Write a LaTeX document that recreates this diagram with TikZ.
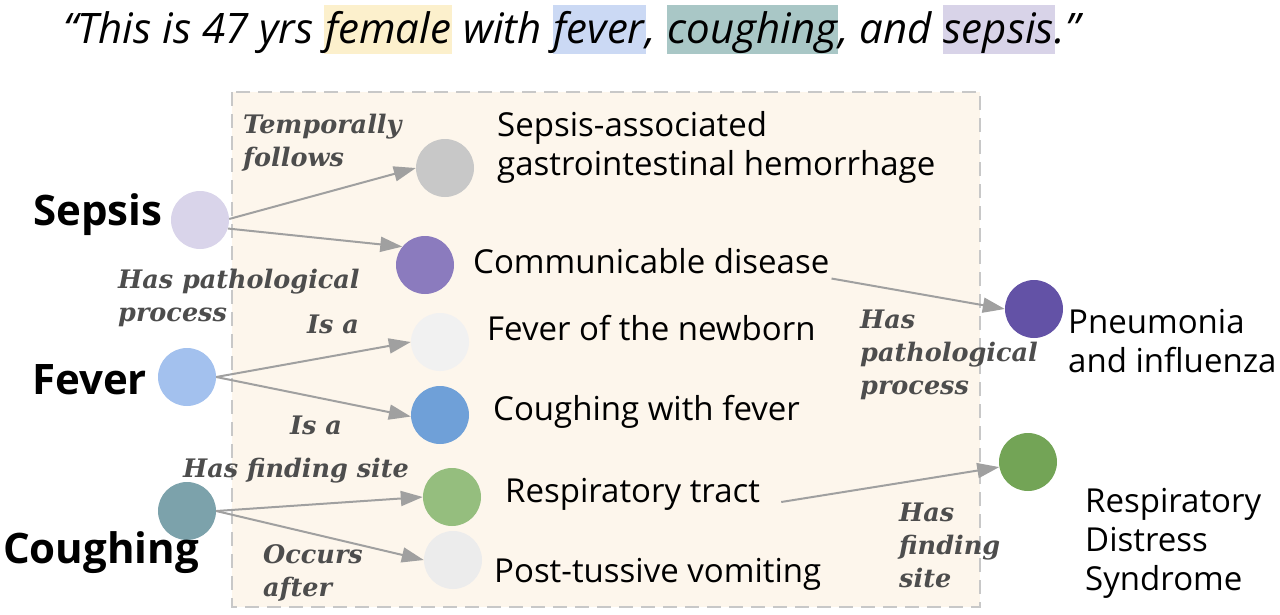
\documentclass[tikz,border=0pt]{standalone}
\usepackage{fontspec}
\setmainfont{Open Sans}
\newfontfamily\relfont{DejaVu Serif}
\usetikzlibrary{arrows.meta}

\definecolor{boxfill}{HTML}{FDF6EC}
\definecolor{boxline}{HTML}{C8C8C8}
\definecolor{linkgray}{HTML}{A0A0A0}
\definecolor{relgray}{HTML}{4D4D4D}
\definecolor{hlfemale}{HTML}{FCF0CC}
\definecolor{hlfever}{HTML}{CBD9F4}
\definecolor{hlcough}{HTML}{A9C7C6}
\definecolor{hlsepsis}{HTML}{D8D3E8}

\newcommand\hlword[2]{{\setlength\fboxsep{1pt}\colorbox{#1}{\rule[-9pt]{0pt}{46pt}#2}}}

\begin{document}
\begin{tikzpicture}[x=1pt,y=-1pt,
  concept/.style={circle,minimum size=58pt,inner sep=0pt},
  term/.style={anchor=base west,align=left,inner sep=0pt,font=\fontsize{33}{39}\selectfont},
  symptom/.style={anchor=base west,inner sep=0pt,font=\fontsize{42}{48}\selectfont\bfseries},
  rel/.style={anchor=base west,align=left,inner sep=0pt,text=relgray,
    font=\relfont\fontsize{25.5}{33}\selectfont\bfseries\itshape},
  link/.style={draw=linkgray,line width=2pt,-{Triangle[length=22pt,width=15pt]}}]
\useasboundingbox (0,0) rectangle (1280,614);

% sentence on top
\node [anchor=base west,inner sep=0pt,font=\fontsize{42}{48}\selectfont\itshape] (quote) at (63,43)
  {“This is 47 yrs \hlword{hlfemale}{female} with \hlword{hlfever}{fever}, \hlword{hlcough}{coughing}, and \hlword{hlsepsis}{sepsis}.”};

% knowledge box
\draw [boxline,fill=boxfill,line width=2pt,dash pattern=on 14pt off 8pt] (232,92) rectangle (980,607);

% concepts
\node [concept,fill={rgb,255:red,217;green,212;blue,234}] (sepsis) at (200,220) {};
\node [concept,fill={rgb,255:red,200;green,200;blue,200}] (sag) at (445,168) {};
\node [concept,fill={rgb,255:red,139;green,123;blue,190}] (cdis) at (425,265) {};
\node [concept,fill={rgb,255:red,241;green,241;blue,241}] (fnew) at (440,342) {};
\node [concept,fill={rgb,255:red,163;green,193;blue,238}] (fever) at (187,377) {};
\node [concept,fill={rgb,255:red,111;green,160;blue,216}] (cwf) at (440,415) {};
\node [concept,fill={rgb,255:red,124;green,162;blue,171}] (cough) at (187,511) {};
\node [concept,fill={rgb,255:red,149;green,190;blue,126}] (rtract) at (452,497) {};
\node [concept,fill={rgb,255:red,236;green,236;blue,236}] (ptv) at (453,560) {};
\node [concept,fill={rgb,255:red,99;green,82;blue,166}] (pneu) at (1034,309) {};
\node [concept,fill={rgb,255:red,115;green,164;blue,86}] (rds) at (1028,462) {};

% names
\node [symptom] (sepsisname) at (33,225) {Sepsis};
\node [symptom] (fevername) at (32,394) {Fever};
\node [symptom] (coughname) at (3,563) {Coughing};

\node [term] (sagtext) at (497,175) {Sepsis-associated\\gastrointestinal hemorrhage};
\node [term] (cdistext) at (473,273) {Communicable disease};
\node [term] (fnewtext) at (487,340) {Fever of the newborn};
\node [term] (cwftext) at (493,420) {Coughing with fever};
\node [term] (rtracttext) at (505,502) {Respiratory tract};
\node [term] (ptvtext) at (494,582) {Post-tussive vomiting};
\node [term] (pneutext) at (1068,372) {Pneumonia\\and influenza};
\node [term] (rdstext) at (1085,590) {Respiratory\\Distress\\Syndrome};

% relations
\draw [link] (sepsis.2) -- (sag.180);
\draw [link] (sepsis.-17) -- (cdis.141);
\draw [link] (fever.0) -- (fnew.180);
\draw [link] (fever.0) -- (cwf.183);
\draw [link] (cough.0) -- (rtract.180);
\draw [link] (cough.0) -- (ptv.180);
\draw [link] ([xshift=2pt,yshift=-5pt]cdistext.south east) -- (pneu.180);
\draw [link] ([xshift=21pt]rtracttext.base east) -- (rds.190);

\node [rel] (tf) at (243,166) {Temporally\\follows};
\node [rel] (hpp) at (118,321) {Has pathological\\process};
\node [rel] (isa1) at (307,333) {Is a};
\node [rel] (isa2) at (290,434) {Is a};
\node [rel] (hfs) at (183,477) {Has finding site};
\node [rel] (oa) at (263,596) {Occurs\\after};
\node [rel] (hpp2) at (860,394) {Has\\pathological\\process};
\node [rel] (hfs2) at (899,587) {Has\\finding\\site};
\end{tikzpicture}
\end{document}
